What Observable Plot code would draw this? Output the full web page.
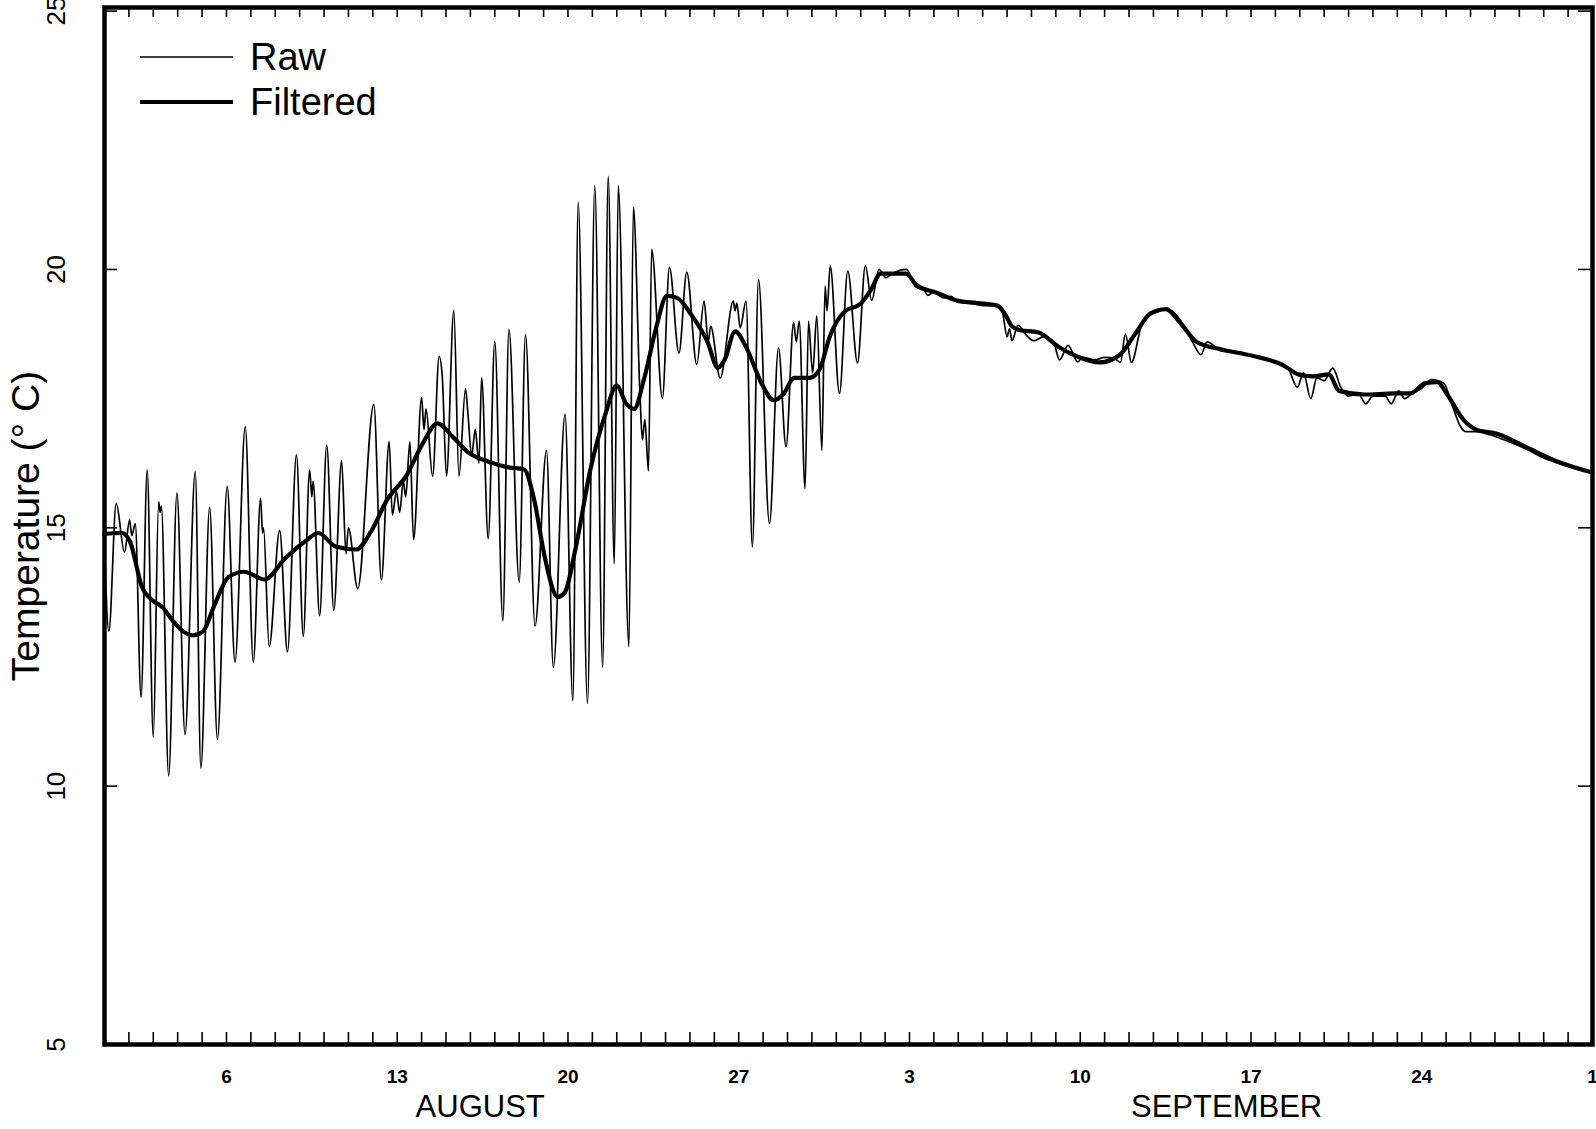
<!DOCTYPE html>
<html>
<head>
<meta charset="utf-8">
<script src="https://cdn.jsdelivr.net/npm/d3@7"></script>
<script src="https://cdn.jsdelivr.net/npm/@observablehq/plot@0.6"></script>
<style>
  html, body { margin: 0; padding: 0; background: #fff; }
  #chart { width: 1596px; height: 1129px; overflow: hidden; }
</style>
</head>
<body>
<div id="chart"></div>
<script>
// Days since 1 August (00:00), temperature in °C
const raw = [
  [0.00,14.6],[0.18,13.0],[0.48,15.47],[0.82,14.53],[1.03,15.15],[1.12,14.85],[1.26,15.08],[1.50,11.72],
  [1.75,16.12],[2.00,10.95],[2.22,15.5],[2.28,15.3],[2.33,15.42],[2.63,10.2],[2.97,15.67],[3.30,11.0],
  [3.72,16.09],[3.95,10.35],[4.31,15.4],[4.63,10.9],[5.03,15.8],[5.35,12.4],[5.77,16.96],[6.10,12.4],
  [6.40,15.57],[6.48,14.9],[6.52,15.0],[6.75,12.7],[7.18,14.95],[7.50,12.6],[7.87,16.41],[8.15,12.9],
  [8.41,16.12],[8.50,15.6],[8.55,15.9],[8.82,13.3],[9.11,16.6],[9.40,13.4],[9.72,16.3],[9.90,14.5],
  [10.00,15.0],[10.38,13.82],[11.04,17.39],[11.35,13.99],[11.67,16.67],[11.80,15.25],[11.97,15.7],[12.10,15.3],
  [12.25,15.9],[12.35,15.6],[12.52,16.67],[12.67,14.77],[13.00,17.52],[13.10,16.9],[13.18,17.3],[13.45,16.0],
  [13.72,18.32],[13.85,17.9],[14.02,16.0],[14.32,19.21],[14.53,16.0],[14.80,17.69],[14.90,17.2],[15.05,16.4],
  [15.20,16.9],[15.35,16.25],[15.46,17.9],[15.73,14.79],[16.00,18.61],[16.33,13.2],[16.58,18.84],[17.00,13.95],
  [17.26,18.74],[17.65,13.1],[18.12,16.5],[18.40,12.3],[18.88,17.2],[19.20,11.65],[19.42,21.3],[19.80,11.6],
  [20.10,21.62],[20.42,12.3],[20.65,21.8],[20.90,14.3],[21.06,21.62],[21.50,12.7],[21.68,21.2],[21.95,17.6],
  [22.05,16.7],[22.15,17.1],[22.30,16.1],[22.43,20.39],[22.87,17.51],[23.16,20.04],[23.55,18.38],[23.87,19.95],
  [24.28,18.16],[24.58,19.39],[24.75,18.6],[24.85,18.9],[25.24,17.9],[25.78,19.39],[25.85,19.2],[25.92,19.35],
  [26.06,18.87],[26.30,19.39],[26.56,14.63],[26.81,19.81],[27.26,15.08],[27.63,18.48],[27.94,16.57],[28.25,18.97],
  [28.36,18.6],[28.48,19.0],[28.72,15.76],[28.86,19.0],[29.03,18.0],[29.20,19.1],[29.41,16.5],[29.54,19.68],
  [29.62,19.2],[29.75,20.07],[30.13,17.6],[30.47,19.97],[30.87,18.19],[31.19,20.07],[31.45,19.4],[31.75,20.0],
  [32.04,19.84],[32.30,19.92],[32.87,20.0],[33.25,19.67],[33.60,19.6],[33.75,19.5],[34.00,19.56],[34.40,19.45],
  [34.70,19.48],[35.00,19.36],[35.60,19.34],[36.00,19.3],[36.60,19.3],[36.80,19.2],[37.00,18.7],[37.10,18.85],
  [37.20,18.62],[37.45,18.92],[37.75,18.75],[38.10,18.62],[38.50,18.7],[38.90,18.6],[39.15,18.25],[39.50,18.53],
  [39.90,18.21],[40.10,18.3],[40.60,18.25],[41.00,18.3],[41.40,18.28],[41.65,18.2],[41.85,18.75],[42.10,18.2],
  [42.50,18.9],[42.80,19.1],[43.30,19.2],[43.55,19.25],[43.75,19.2],[44.20,18.95],[44.60,18.6],[44.95,18.35],
  [45.20,18.6],[45.80,18.42],[46.50,18.4],[47.20,18.3],[48.00,18.2],[48.50,18.1],[48.90,17.72],[49.15,18.0],
  [49.45,17.5],[49.70,17.9],[50.00,17.85],[50.35,18.09],[50.70,17.7],[51.00,17.55],[51.40,17.6],[51.70,17.4],
  [52.00,17.55],[52.50,17.55],[52.75,17.4],[53.05,17.65],[53.30,17.5],[53.60,17.6],[54.00,17.7],[54.40,17.87],
  [54.90,17.8],[55.30,17.3],[55.60,16.95],[55.80,16.86],[56.20,16.86],[56.80,16.8],[57.50,16.68],[58.30,16.52],
  [59.00,16.35],[59.60,16.25],[60.30,16.15],[61.00,16.07]
];

const filtered = [
  [0.00,14.88],[0.71,14.9],[1.04,14.74],[1.54,13.85],[1.96,13.6],[2.38,13.46],[2.80,13.2],[3.21,13.0],
  [3.63,12.92],[4.05,13.0],[4.47,13.46],[5.09,14.05],[5.72,14.15],[6.56,14.0],[7.39,14.4],[8.23,14.74],
  [8.77,14.9],[9.48,14.64],[10.31,14.58],[10.94,14.94],[11.57,15.53],[12.40,16.03],[13.03,16.62],[13.65,17.02],
  [14.28,16.76],[14.91,16.46],[15.74,16.28],[16.58,16.17],[17.20,16.13],[17.62,15.53],[18.04,14.45],[18.58,13.66],
  [18.87,13.75],[19.29,14.55],[19.92,16.13],[20.54,17.21],[21.00,17.75],[21.38,17.41],[21.71,17.3],[22.13,17.9],
  [22.63,18.9],[23.05,19.49],[23.47,19.45],[24.09,19.1],[24.72,18.6],[25.14,18.1],[25.43,18.26],[25.85,18.8],
  [26.30,18.5],[26.93,17.8],[27.43,17.47],[27.85,17.6],[28.27,17.9],[28.89,17.9],[29.31,18.06],[29.73,18.7],
  [30.35,19.19],[30.98,19.33],[31.40,19.59],[31.82,19.92],[32.86,19.92],[33.28,19.7],[34.11,19.55],[34.95,19.4],
  [35.78,19.35],[36.60,19.3],[36.90,19.15],[37.20,18.9],[37.50,18.83],[38.29,18.78],[39.12,18.5],[39.96,18.3],
  [40.79,18.2],[41.63,18.35],[42.25,18.75],[42.88,19.15],[43.50,19.23],[44.13,18.95],[44.76,18.6],[45.80,18.45],
  [47.06,18.33],[48.31,18.15],[48.94,17.97],[49.56,17.93],[50.19,17.97],[50.61,17.65],[51.65,17.58],[52.90,17.6],
  [53.53,17.6],[54.15,17.8],[54.65,17.82],[54.99,17.62],[55.70,17.1],[56.24,16.9],[57.08,16.82],[58.33,16.55],
  [59.58,16.28],[61.00,16.07]
];

const yTicks = [5, 10, 15, 20, 25];
const weekTickDays = [5, 12, 19, 26, 33, 40, 47, 54, 61];   // Aug 6 ... Oct 1
const monthNames = ["AUGUST", "SEPTEMBER"];
const monthCentreDays = [15.4, 46.0];
const legendNames = ["Raw", "Filtered"];
const legendWidths = [1.6, 4.2];

const origin = Date.UTC(1990, 7, 1);
const toDate = d => new Date(origin + d * 864e5);
const dailyTicks = d3.utcDay.range(toDate(1), toDate(61));
const weekTicks = weekTickDays.map(toDate);
const months = monthNames.map((m, i) => ({label: m, date: toDate(monthCentreDays[i])}));

const FONT = "'Liberation Sans', Arial, Helvetica, sans-serif";

function legendMark(...args) {
  const dims = args.find(a => a && a.marginLeft !== undefined);
  const g = d3.create("svg:g");
  const x0 = dims.marginLeft + 36, x1 = dims.marginLeft + 129;
  legendNames.forEach((name, i) => {
    const y = dims.marginTop + 50 + i * 45;
    g.append("line").attr("x1", x0).attr("x2", x1).attr("y1", y).attr("y2", y)
      .attr("stroke", "#000").attr("stroke-width", legendWidths[i]);
    g.append("text").attr("x", dims.marginLeft + 146).attr("y", y + 13)
      .attr("text-anchor", "start")
      .attr("font-family", FONT).attr("font-size", 38).attr("fill", "#000").text(name);
  });
  return g.node();
}

const chart = Plot.plot({
  width: 1596,
  height: 1129,
  marginLeft: 104,
  marginRight: 4,
  marginTop: 7,
  marginBottom: 85,
  style: {fontFamily: FONT, color: "#000", background: "#fff", overflow: "visible"},
  x: {type: "utc", domain: [toDate(0), toDate(61)]},
  y: {domain: [5, 25.07]},
  marks: [
    Plot.line(raw, {x: d => toDate(d[0]), y: d => d[1], stroke: "#000", strokeWidth: 1.7, curve: "monotone-x"}),
    Plot.line(filtered, {x: d => toDate(d[0]), y: d => d[1], stroke: "#000", strokeWidth: 4.2, curve: "monotone-x"}),
    Plot.frame({stroke: "#000", strokeWidth: 4.5}),
    Plot.axisX(dailyTicks, {anchor: "bottom", tickSize: -12, tickFormat: () => "", strokeWidth: 1.6, label: null}),
    Plot.axisX(dailyTicks, {anchor: "top", tickSize: -9, tickFormat: () => "", strokeWidth: 1.6, label: null}),
    Plot.axisX(weekTicks, {anchor: "bottom", tickSize: 0, tickPadding: 25, tickFormat: d => d.getUTCDate(),
      fontSize: 19, fontWeight: "bold", label: null}),
    Plot.axisY(yTicks, {anchor: "left", tickSize: -13, tickFormat: () => "", strokeWidth: 1.6, label: null}),
    Plot.axisY(yTicks, {anchor: "right", tickSize: -15, tickFormat: () => "", strokeWidth: 1.6, label: null}),
    Plot.axisY(yTicks, {anchor: "left", tickSize: 0, tickPadding: 48, tickRotate: -90, lineAnchor: "middle",
      textAnchor: "middle", fontSize: 26, tickFormat: d => String(d), label: null}),
    Plot.text(["Temperature (° C)"], {frameAnchor: "left", rotate: -90, dx: -78, textAnchor: "middle",
      lineAnchor: "middle", fontSize: 39, fill: "#000"}),
    Plot.text(months, {x: "date", text: "label", frameAnchor: "bottom", dy: 63, lineAnchor: "middle",
      textAnchor: "middle", fontSize: 31, fill: "#000"}),
    legendMark
  ]
});

document.getElementById("chart").appendChild(chart);
</script>
</body>
</html>
